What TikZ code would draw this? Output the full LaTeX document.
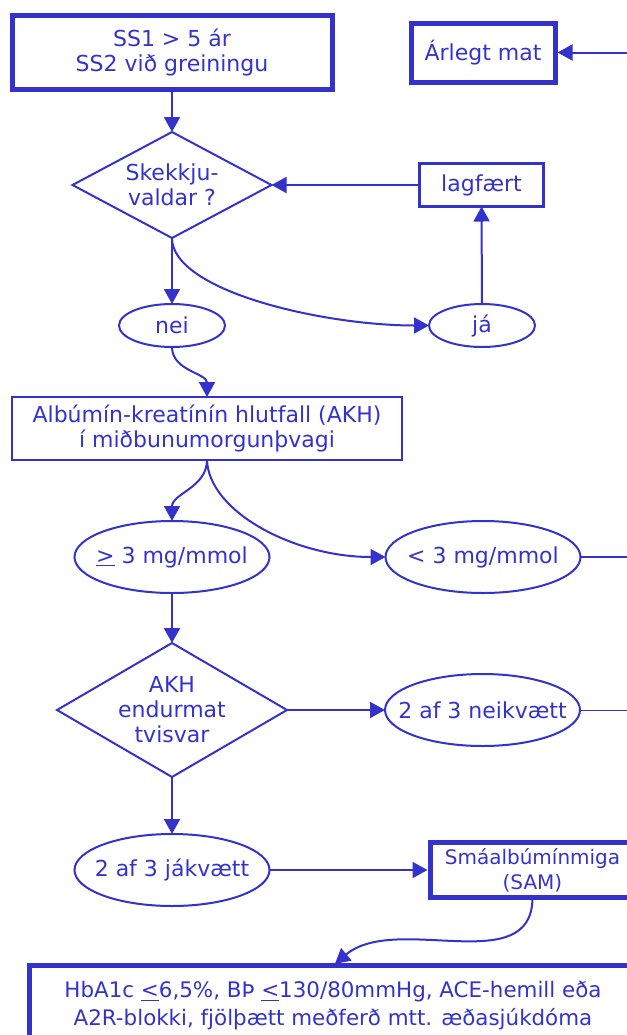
\documentclass[tikz,border=0pt]{standalone}
\usepackage{fontspec}
\setmainfont{DejaVu Sans}
\usetikzlibrary{positioning,arrows.meta,shapes.geometric}
\definecolor{flowblue}{RGB}{51,51,204}

\begin{document}
\begin{tikzpicture}[x=0.5pt, y=-0.5pt, font=\fontsize{11}{12.5}\selectfont, color=flowblue,
  box/.style={draw, line width=1.2pt, align=center, inner sep=0pt, outer sep=0pt},
  thickbox/.style={box, line width=2.5pt},
  ell/.style={draw, ellipse, line width=1pt, inner xsep=-10pt, inner ysep=0pt, outer sep=0pt, minimum width=97.5pt, minimum height=36pt},
  smallell/.style={ell, minimum width=53pt, minimum height=21.5pt},
  dia/.style={draw, diamond, line width=1pt, align=center, inner sep=0pt, outer sep=0pt},
  arr/.style={-{Triangle[length=7.5pt, width=8pt]}, line width=1pt},
  thickarr/.style={arr, shorten >=1.25pt}]
\useasboundingbox (0,0) rectangle (627,1035);
\clip (0,0) rectangle (627,1035);
\node[thickbox, minimum width=160pt, minimum height=37pt] (start) at (172,52.5) {SS1 > 5 ár\\SS2 við greiningu};
\node[thickbox, minimum width=72pt, minimum height=29.5pt, right=39.5pt of start] (mat) {Árlegt mat};
\node[dia, shape aspect=1.88, minimum width=99.5pt, minimum height=53pt, below=21.25pt of start] (skekk) {Skekkju-\\valdar ?};
\node[box, minimum width=62pt, minimum height=21.5pt, right=74pt of skekk] (lagf) {lagfært};
\node[smallell, below=33pt of skekk] (nei) {nei};
\node[smallell, right=102pt of nei] (ja) {já};
\node[box, minimum width=195pt, minimum height=31.5pt, below=25pt of nei, xshift=17.5pt] (akh) {Albúmín-kreatínín hlutfall (AKH)\\í miðbunumorgunþvagi};
\node[ell, below=30.5pt of akh, xshift=-17.5pt] (ge3) {\underline{>} 3 mg/mmol};
\node[ell, right=58pt of ge3] (lt3) {< 3 mg/mmol};
\node[dia, shape aspect=1.72, minimum width=115pt, minimum height=67pt, below=25pt of ge3] (endurmat) {AKH\\endurmat\\tvisvar};
\node[ell, right=49pt of endurmat] (neg) {2 af 3 neikvætt};
\node[ell, below=28.5pt of endurmat] (jakv) {2 af 3 jákvætt};
\node[thickbox, minimum width=102.5pt, minimum height=27.5pt, right=80.25pt of jakv, font=\fontsize{10}{12.5}\selectfont] (sam) {Smáalbúmínmiga\\(SAM)};
\node[thickbox, minimum width=303.5pt, minimum height=40pt, below=29.75pt of jakv, xshift=80.5pt, font=\fontsize{10.7}{14}\selectfont] (medf) {HbA1c \underline{<}6,5\%, BÞ \underline{<}130/80mmHg, ACE-hemill eða\\A2R-blokki, fjölþætt meðferð mtt. æðasjúkdóma};
\coordinate (rimmat) at ([xshift=60pt]mat.east);
\coordinate (rimlt3) at ([xshift=40pt]lt3.east);
\coordinate (rimneg) at ([xshift=40pt]neg.east);
\draw[thickarr] (rimmat) -- (mat);
\draw[arr] (start) -- (skekk);
\draw[arr] (lagf) -- (skekk);
\draw[arr] (skekk) -- (nei);
\draw[arr] (skekk.south) to[out=-90, in=180, out looseness=0.5, in looseness=1] (ja.west);
\draw[arr] (ja) -- (lagf);
\draw[arr] (nei.south) to[out=-90, in=90] (akh.north);
\draw[arr] (akh.south) to[out=-90, in=90] (ge3.north);
\draw[arr] (akh.south) to[out=-88, in=180, out looseness=0.65, in looseness=1.15] (lt3.west);
\draw[line width=1pt] (lt3) -- (rimlt3);
\draw[arr] (ge3) -- (endurmat);
\draw[arr] (endurmat) -- (neg);
\draw[line width=0.5pt] (neg) -- (rimneg);
\draw[arr] (endurmat) -- (jakv);
\draw[thickarr] (jakv) -- (sam);
\draw[thickarr] (sam.south) to[out=-90, in=40] (medf.north);
\end{tikzpicture}
\end{document}
